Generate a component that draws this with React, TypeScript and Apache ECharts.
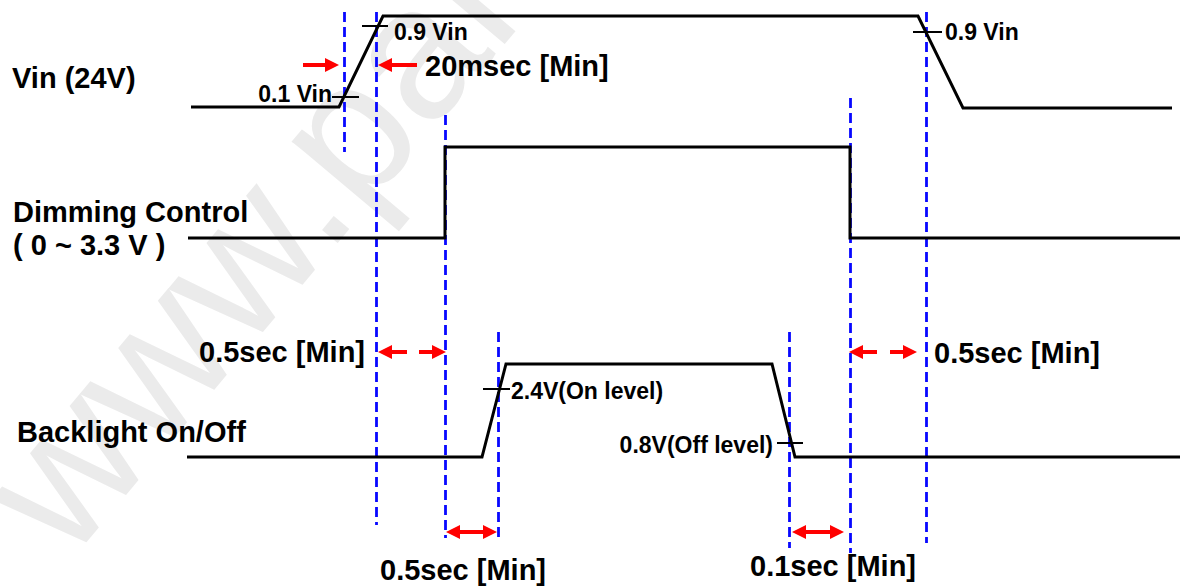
import React, { useEffect, useRef } from "react";
import * as echarts from "echarts";

// Waveforms: time (x) and level (y, screen-down) of each breakpoint
const vinTime = [191, 339, 383, 918, 963, 1172];
const vinLevel = [107, 107, 16, 16, 108, 108];
const dimTime = [188, 445, 445, 850, 850, 1180];
const dimLevel = [238, 238, 147, 147, 238, 238];
const blTime = [187, 482, 506, 772, 795, 1180];
const blLevel = [457, 457, 364, 364, 457, 457];

// Blue dashed timing guides
const guideTime = [344, 376, 445, 498, 789, 850, 926];
const guideFrom = [12, 12, 115, 332, 332, 98, 12];
const guideTo = [152, 525, 538, 540, 548, 553, 543];

// Threshold tick marks
const thresholdTime = [
  [332, 359],
  [362, 388],
  [913, 942],
  [483, 510],
  [777, 803],
];
const thresholdLevel = [97, 26, 32, 389, 443];

// Red single arrows (tail -> tip)
const arrowFrom = [
  [303, 65],
  [417, 65],
  [407, 352],
  [419, 352],
  [877, 352],
  [890, 352],
];
const arrowTip = [
  [339, 65],
  [378, 65],
  [378, 352],
  [446, 352],
  [849, 352],
  [917, 352],
];
// Red double arrows
const spanFrom = [
  [446, 532],
  [792, 532],
];
const spanTo = [
  [497, 532],
  [844, 532],
];

const signalNames = ["Vin (24V)", "Dimming Control", "( 0 ~ 3.3 V )", "Backlight On/Off"];
const signalNameAt = [
  [12, 78],
  [13, 212],
  [13, 245],
  [17, 432],
];
const timingNotes = ["20msec [Min]", "0.5sec [Min]", "0.5sec [Min]", "0.5sec [Min]", "0.1sec [Min]"];
const timingNoteAt = [
  [425, 66],
  [365, 352],
  [934, 353],
  [380, 570],
  [750, 566],
];
const timingNoteAlign = ["left", "right", "left", "left", "left"];
const thresholdNotes = ["0.1 Vin", "0.9 Vin", "0.9 Vin", "2.4V(On level)", "0.8V(Off level)"];
const thresholdNoteAt = [
  [332, 94],
  [394, 32],
  [945, 32],
  [511, 391],
  [773, 445],
];
const thresholdNoteAlign = ["right", "left", "left", "left", "right"];

const FONT = "'Liberation Sans', Arial, Helvetica, sans-serif";
const HEAD = 14;

function wave(t: number[], l: number[]) {
  return t.map((x, i) => [x, l[i]]);
}

function labelSeries(texts: string[], at: number[][], aligns: string[] | null, size: number) {
  return {
    type: "scatter",
    symbolSize: 0,
    itemStyle: { color: "#000000", opacity: 1 },
    silent: true,
    z: 5,
    clip: false,
    data: texts.map((txt, i) => ({
      value: at[i],
      label: {
        show: true,
        position: "inside",
        formatter: txt,
        align: aligns ? aligns[i] : "left",
        verticalAlign: "middle",
        color: "#000000",
        opacity: 1,
        textBorderWidth: 0,
        textShadowBlur: 0,
        fontFamily: FONT,
        fontWeight: "bold",
        fontSize: size,
      },
    })),
  };
}

export default function App() {
  const ref = useRef<HTMLDivElement>(null);
  useEffect(() => {
    if (!ref.current) return;
    const chart = echarts.init(ref.current, null, { renderer: "svg" });
    const blackLine = { color: "#000", width: 3, cap: "butt", join: "miter" };
    const option: any = {
      animation: false,
      backgroundColor: "#fff",
      grid: { left: 0, right: 0, top: 0, bottom: 0 },
      xAxis: { type: "value", min: 0, max: 1182, show: false },
      yAxis: { type: "value", min: 0, max: 587, inverse: true, show: false },
      graphic: [
        {
          type: "text",
          x: 18,
          y: 521,
          rotation: (50 * Math.PI) / 180,
          z: -10,
          silent: true,
          style: {
            text: "www.panelook.com",
            fontSize: 190,
            fontFamily: FONT,
            fill: "#ebebeb",
            align: "left",
            verticalAlign: "middle",
          },
        },
      ],
      series: [
        {
          type: "lines",
          coordinateSystem: "cartesian2d",
          silent: true,
          z: 2,
          lineStyle: { color: "#0808ff", width: 2.8, type: [10, 5], opacity: 1 },
          data: guideTime.map((x, i) => ({ coords: [[x, guideFrom[i]], [x, guideTo[i]]] })),
        },
        ...[wave(vinTime, vinLevel), wave(dimTime, dimLevel), wave(blTime, blLevel)].map((d) => ({
          type: "line",
          data: d,
          showSymbol: false,
          symbol: "none",
          clip: false,
          silent: true,
          z: 3,
          lineStyle: blackLine,
        })),
        {
          type: "lines",
          coordinateSystem: "cartesian2d",
          silent: true,
          z: 3,
          lineStyle: { color: "#000", width: 2, opacity: 1 },
          data: thresholdTime.map((t, i) => ({
            coords: [
              [t[0], thresholdLevel[i]],
              [t[1], thresholdLevel[i]],
            ],
          })),
        },
        {
          type: "lines",
          coordinateSystem: "cartesian2d",
          silent: true,
          z: 4,
          symbol: ["none", "triangle"],
          symbolSize: HEAD,
          lineStyle: { color: "#ff0000", width: 4, opacity: 1 },
          itemStyle: { color: "#ff0000" },
          data: arrowFrom.map((f, i) => {
            const t = arrowTip[i];
            const d = Math.sign(t[0] - f[0]);
            return { coords: [f, [t[0] - (d * HEAD) / 2, t[1]]] };
          }),
        },
        {
          type: "lines",
          coordinateSystem: "cartesian2d",
          silent: true,
          z: 4,
          symbol: ["triangle", "triangle"],
          symbolSize: HEAD,
          lineStyle: { color: "#ff0000", width: 4, opacity: 1 },
          itemStyle: { color: "#ff0000" },
          data: spanFrom.map((f, i) => {
            const t = spanTo[i];
            return {
              coords: [
                [f[0] + HEAD / 2, f[1]],
                [t[0] - HEAD / 2, t[1]],
              ],
            };
          }),
        },
        labelSeries(signalNames, signalNameAt, null, 29),
        labelSeries(timingNotes, timingNoteAt, timingNoteAlign, 29),
        labelSeries(thresholdNotes, thresholdNoteAt, thresholdNoteAlign, 23),
      ],
    };
    chart.setOption(option);
    return () => chart.dispose();
  }, []);
  return (
    <div
      ref={ref}
      style={{ position: "fixed", left: 0, top: 0, width: 1182, height: 587, background: "#fff" }}
    />
  );
}
